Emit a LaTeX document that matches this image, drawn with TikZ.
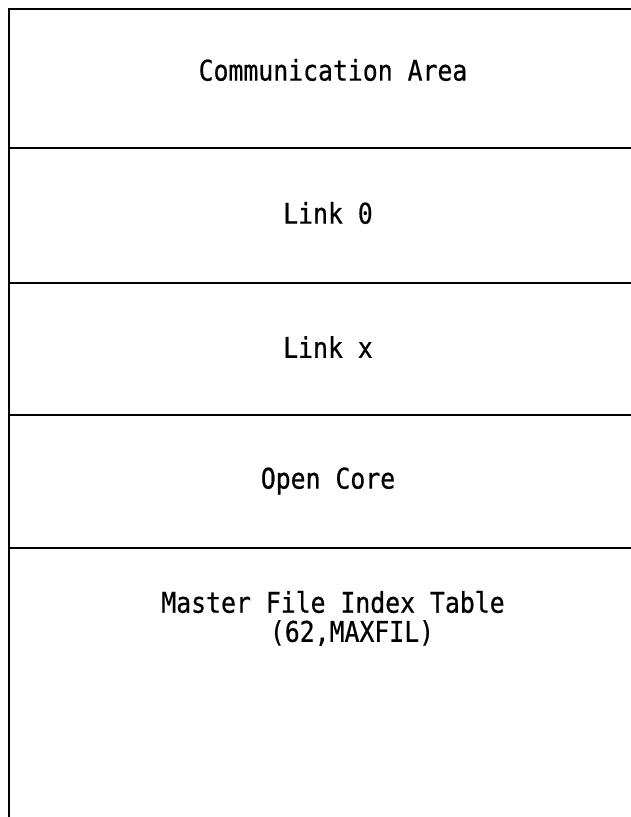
\documentclass[tikz,border=0pt]{standalone}
\usepackage{fontspec}
\newfontfamily\tw[FakeStretch=0.87,FakeBold=0.6]{DejaVu Sans Mono}
\begin{document}
\begin{tikzpicture}[x=1pt,y=-1pt,
  rule/.style={line width=2.2pt,black},
  lbl/.style={font=\tw\fontsize{28.5}{32}\selectfont,inner sep=0pt}]
\useasboundingbox (0,0) rectangle (631,817);
\coordinate (tl) at (9,9);
\coordinate (tr) at (631,9);
\coordinate (bl) at (9,817);
\coordinate (l1) at (9,148);  \coordinate (r1) at (631,148);
\coordinate (l2) at (9,283);  \coordinate (r2) at (631,283);
\coordinate (l3) at (9,415);  \coordinate (r3) at (631,415);
\coordinate (l4) at (9,548);  \coordinate (r4) at (631,548);
\draw[rule] (tr) -- (tl) -- (bl);
\draw[rule] (l1) -- (r1);
\draw[rule] (l2) -- (r2);
\draw[rule] (l3) -- (r3);
\draw[rule] (l4) -- (r4);
\node[lbl] (comm) at (333,70) {Communication Area};
\node[lbl] (link0) at (328,213) {Link 0};
\node[lbl] (linkx) at (328,347) {Link x};
\node[lbl] (open) at (328,481) {Open Core};
\node[lbl] (mfit) at (333,602) {Master File Index Table};
\node[lbl] (maxfil) at (352,633) {(62,MAXFIL)};
\end{tikzpicture}
\end{document}
